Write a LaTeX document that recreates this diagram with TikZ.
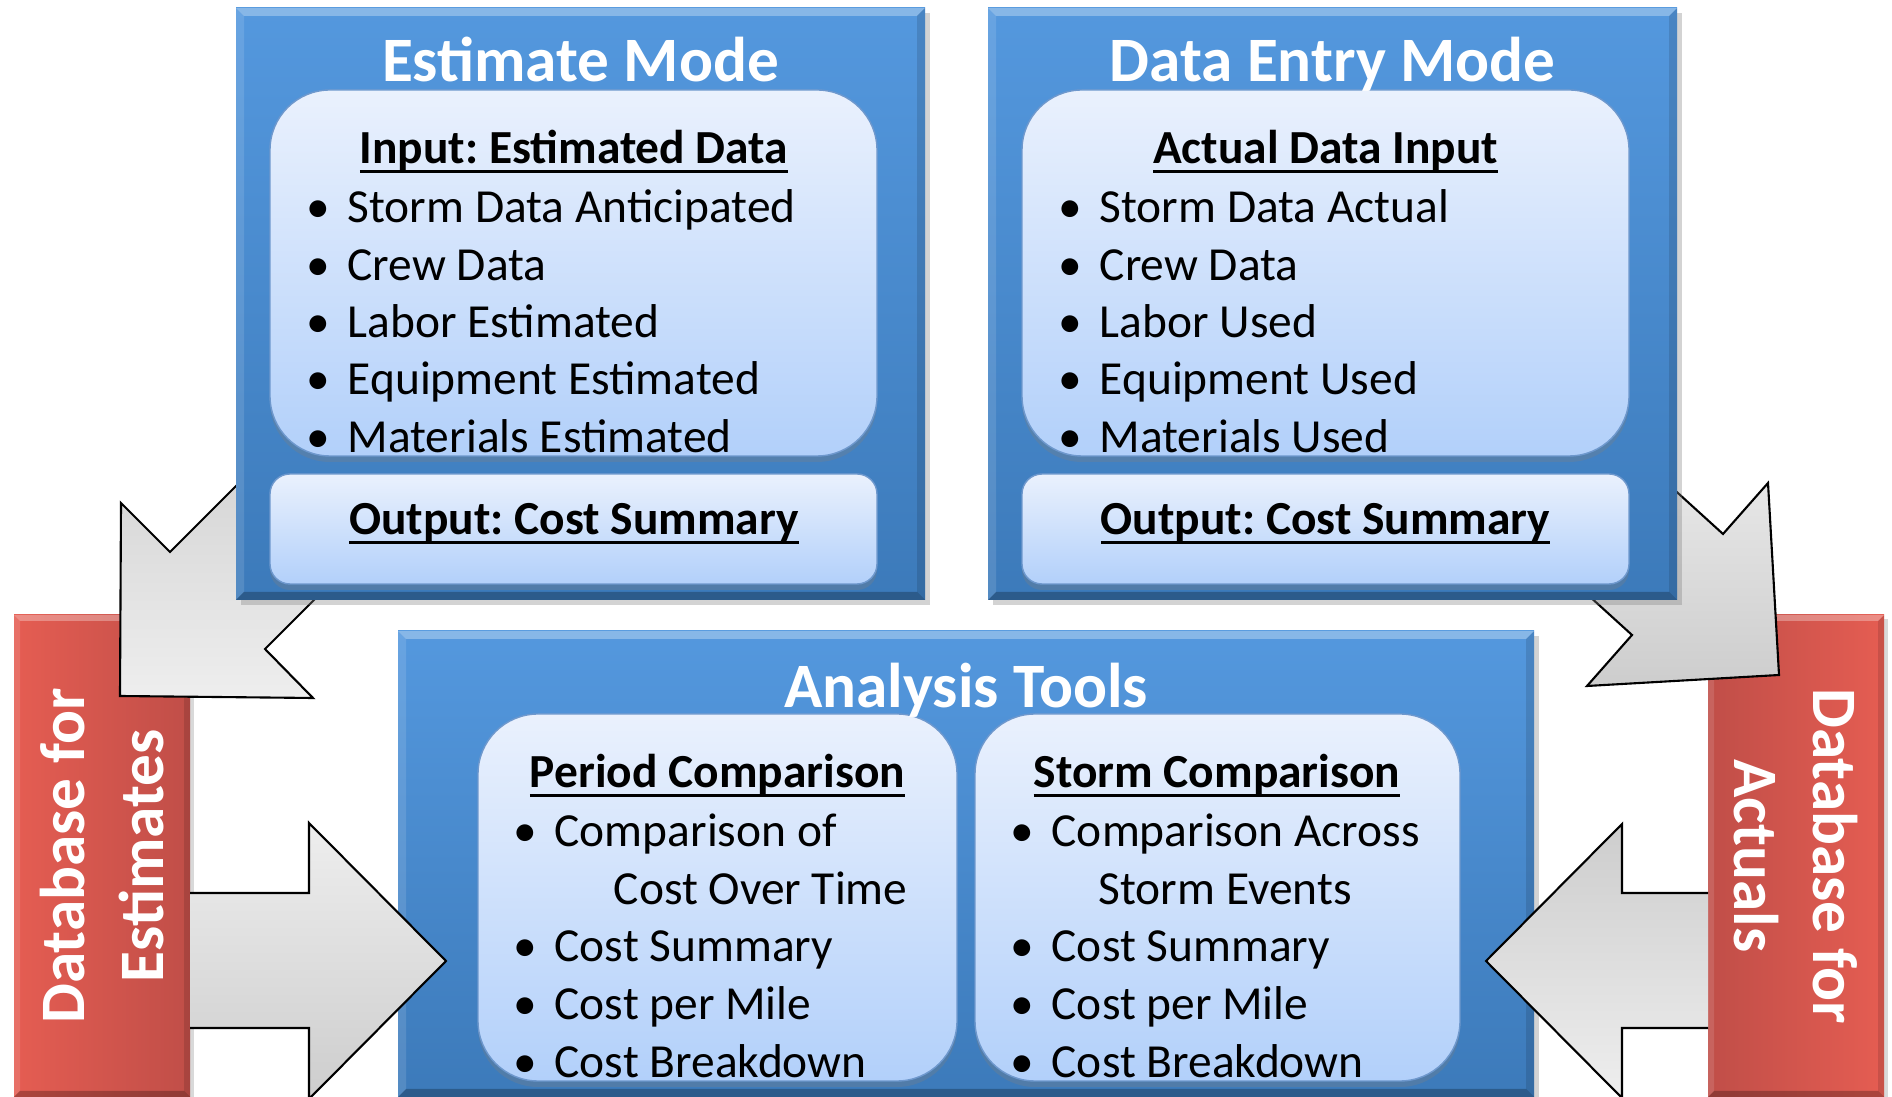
\documentclass[tikz,border=0pt]{standalone}
\usepackage{fontspec}
\setmainfont{Carlito}
\usepackage{tikz}
\usetikzlibrary{shadows}
\frenchspacing

\definecolor{paneltop}{RGB}{84,152,222}
\definecolor{panelbot}{RGB}{60,122,186}
\definecolor{cardtop}{RGB}{234,241,253}
\definecolor{cardbot}{RGB}{178,208,250}
\definecolor{cardline}{RGB}{110,152,205}
\definecolor{dblight}{RGB}{229,93,82}
\definecolor{dbdark}{RGB}{192,78,72}
\definecolor{arrlight}{RGB}{238,238,238}
\definecolor{arrdark}{RGB}{205,205,205}

\newcommand\headfont{\fontsize{18}{22.5}\selectfont\bfseries}
\newcommand\itemfont{\fontsize{13.5}{16}\selectfont}
\newcommand\bul{\makebox[4.1mm][l]{\textbullet}}
\newcommand\uln[1]{\setbox0\hbox{#1}\rlap{\rule[-0.9mm]{\wd0}{0.3mm}}\box0}

\begin{document}
\begin{tikzpicture}
[x=0.1mm,y=-0.1mm,
bevel/.style={path picture={
  \path (path picture bounding box.north west) coordinate (bnw)
        (path picture bounding box.south east) coordinate (bse);
  \fill[white,opacity=.3] (bnw) -- (bnw-|bse) -- ([shift={(-#1,-#1)}]bnw-|bse) -- ([shift={(#1,-#1)}]bnw) -- cycle;
  \fill[white,opacity=.12] (bnw) -- ([shift={(#1,-#1)}]bnw) -- ([shift={(#1,#1)}]bse-|bnw) -- (bse-|bnw) -- cycle;
  \fill[black,opacity=.25] (bse-|bnw) -- ([shift={(#1,#1)}]bse-|bnw) -- ([shift={(-#1,#1)}]bse) -- (bse) -- cycle;
  \fill[black,opacity=.12] (bse) -- ([shift={(-#1,#1)}]bse) -- ([shift={(-#1,-#1)}]bnw-|bse) -- (bnw-|bse) -- cycle;
}},
panel/.style={rectangle,anchor=north west,inner sep=0pt,outer sep=0pt,top color=paneltop,bottom color=panelbot,bevel=0.8mm,drop shadow={opacity=.35,shadow xshift=.5mm,shadow yshift=-.5mm}},
card/.style={rectangle,anchor=north west,inner sep=0pt,outer sep=0pt,rounded corners=6mm,draw=cardline,line width=.4pt,top color=cardtop,bottom color=cardbot,drop shadow={opacity=.3,shadow xshift=0mm,shadow yshift=-.6mm}},
outcard/.style={card,rounded corners=2mm},
dbase/.style={rectangle,anchor=north west,inner sep=0pt,outer sep=0pt,minimum width=17.6mm,minimum height=48.2mm,bevel=0.6mm,drop shadow={opacity=.3,shadow xshift=.4mm,shadow yshift=-.4mm}},
dbtext/.style={align=center,text=white,font=\headfont,inner sep=0pt},
head/.style={anchor=base,text=white,font=\headfont,inner sep=0pt},
sub/.style={anchor=base,font=\itemfont\bfseries,inner sep=0pt},
item/.style={anchor=base west,font=\itemfont,inner sep=0pt},
blockarrow/.style={draw=black,line width=.6pt,line join=miter}]
\useasboundingbox (0,0) rectangle (1892,1097);

% the two databases at the sides
\node at (14,615) [dbase,left color=dblight,right color=dbdark] (dbest) {};
\node at (1708,615) [dbase,left color=dbdark,right color=dblight] (dbact) {};
\node at (dbest.center) [dbtext,rotate=90] (dbestT) {Database for\\Estimates};
\node at (dbact.center) [dbtext,rotate=-90] (dbactT) {Database for\\Actuals};

% diagonal arrows, their tails hidden under the mode panels
\draw[blockarrow,top color=arrdark,bottom color=arrlight] (120,696) -- (121,503) -- (170,552) -- (330,392) -- (425,489) -- (265,649) -- (313,698) -- cycle;
\draw[blockarrow,top color=arrlight,bottom color=arrdark] (1779,675) -- (1768,483) -- (1723,534) -- (1603,425) -- (1512,526) -- (1632,635) -- (1587,686) -- cycle;

% mode panels
\node at (236,8) [panel,minimum width=68.9mm,minimum height=59.2mm] (est) {};
\node at (988,8) [panel,minimum width=68.9mm,minimum height=59.2mm] (entry) {};
\node at (398,631) [panel,minimum width=113.6mm,minimum height=46.6mm] (tools) {};

\node at (270,90) [card,minimum width=60.7mm,minimum height=36.6mm] (estin) {};
\node at (270,474) [outcard,minimum width=60.7mm,minimum height=11mm] (estout) {};
\node at (1022,90) [card,minimum width=60.7mm,minimum height=36.6mm] (entryin) {};
\node at (1022,474) [outcard,minimum width=60.7mm,minimum height=11mm] (entryout) {};
\node at (478,714) [card,minimum width=47.9mm,minimum height=36.7mm] (period) {};
\node at (975,714) [card,minimum width=48.5mm,minimum height=36.7mm] (storm) {};

% estimate mode
\node at (580.5,82) [head] (estT) {Estimate Mode};
\node at (574,164) [sub] (estS) {\uln{Input: Estimated Data}};
\node at (306,223) [item] (estI1) {\bul Storm Data Anticipated};
\node at (306,280.3) [item] (estI2) {\bul Crew Data};
\node at (306,337.6) [item] (estI3) {\bul Labor Estimated};
\node at (306,394.9) [item] (estI4) {\bul Equipment Estimated};
\node at (306,452.2) [item] (estI5) {\bul Materials Estimated};
\node at (574,535) [sub] (estO) {\uln{Output: Cost Summary}};

% data entry mode
\node at (1332.5,82) [head] (entryT) {Data Entry Mode};
\node at (1325.5,164) [sub] (entryS) {\uln{Actual Data Input}};
\node at (1058,223) [item] (entryI1) {\bul Storm Data Actual};
\node at (1058,280.3) [item] (entryI2) {\bul Crew Data};
\node at (1058,337.6) [item] (entryI3) {\bul Labor Used};
\node at (1058,394.9) [item] (entryI4) {\bul Equipment Used};
\node at (1058,452.2) [item] (entryI5) {\bul Materials Used};
\node at (1325.5,535) [sub] (entryO) {\uln{Output: Cost Summary}};

% analysis tools
\node at (966,708) [head] (toolsT) {Analysis Tools};
\node at (717.5,788) [sub] (periodS) {\uln{Period Comparison}};
\node at (513,847) [item] (periodI1) {\bul Comparison of};
\node at (613,904.5) [item] (periodI2) {Cost Over Time};
\node at (513,962) [item] (periodI3) {\bul Cost Summary};
\node at (513,1019.5) [item] (periodI4) {\bul Cost per Mile};
\node at (513,1077) [item] (periodI5) {\bul Cost Breakdown};
\node at (1217,788) [sub] (stormS) {\uln{Storm Comparison}};
\node at (1010,847) [item] (stormI1) {\bul Comparison Across};
\node at (1098,904.5) [item] (stormI2) {Storm Events};
\node at (1010,962) [item] (stormI3) {\bul Cost Summary};
\node at (1010,1019.5) [item] (stormI4) {\bul Cost per Mile};
\node at (1010,1077) [item] (stormI5) {\bul Cost Breakdown};

% arrows from the databases into the tools
\path[blockarrow,top color=arrlight,bottom color=arrdark] (190,893) -- (309,893) -- (309,823) -- (446,961) -- (309,1099) -- (309,1028) -- (190,1028);
\path[blockarrow,top color=arrdark,bottom color=arrlight] (1708,893) -- (1622,893) -- (1622,824) -- (1486,961) -- (1622,1098) -- (1622,1028) -- (1708,1028);
\end{tikzpicture}
\end{document}
